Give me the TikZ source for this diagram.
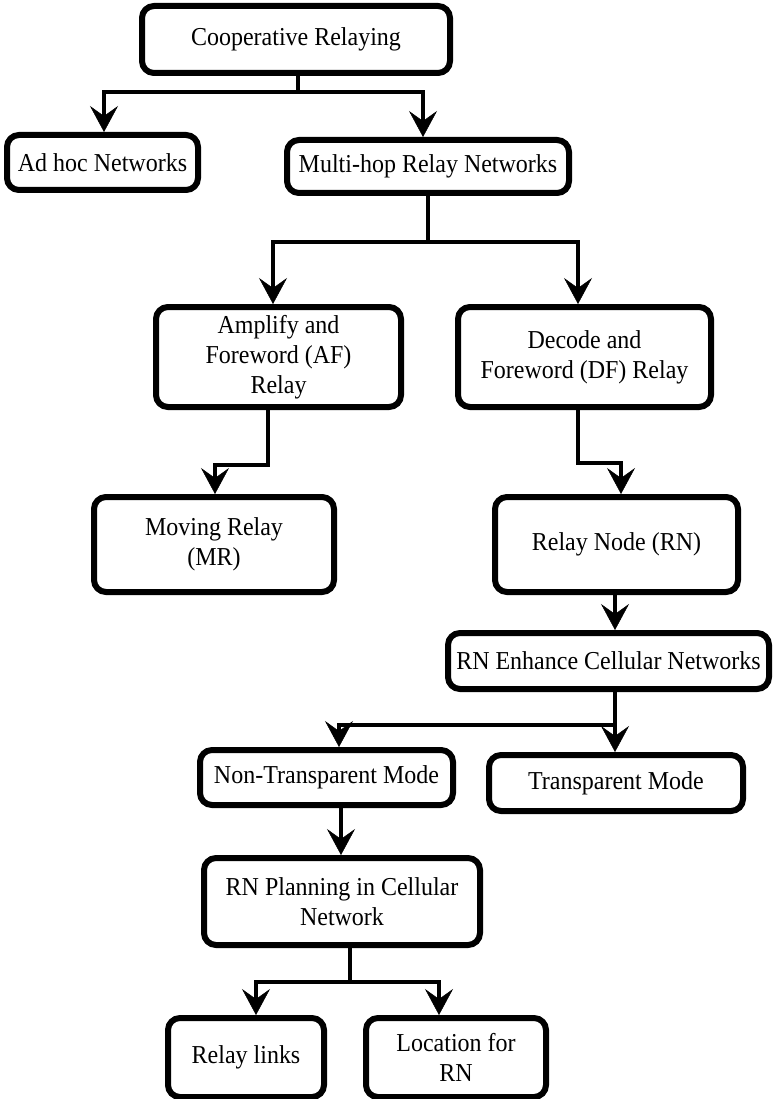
\documentclass[tikz,border=0pt]{standalone}
\usepackage{fontspec}
\setmainfont{Liberation Serif}[FakeStretch=0.93]
\usetikzlibrary{arrows.meta}
\begin{document}
\begin{tikzpicture}[x=1pt,y=-1pt,
  box/.style={draw=black, line width=6pt, rounded corners=12pt, inner sep=0pt,
    align=center, font=\fontsize{25.8}{30}\selectfont},
  conn/.style={draw=black, line width=4pt,
    -{Stealth[length=26pt,width=28pt,inset=10pt,line width=0.5pt]}}]
\useasboundingbox (0,0) rectangle (774,1099);

% boxes
\node[box, minimum width=308pt, minimum height=67pt] (coop) at (296,39.5) {Cooperative Relaying};
\node[box, minimum width=191pt, minimum height=55pt] (adhoc) at (102.5,162.5) {Ad hoc Networks};
\node[box, minimum width=282pt, minimum height=53pt] (multi) at (428,166.5) {Multi-hop Relay Networks};
\node[box, minimum width=245pt, minimum height=100pt] (af) at (278.5,357) {Amplify and\\Foreword (AF)\\Relay};
\node[box, minimum width=253pt, minimum height=100pt] (df) at (584.5,357) {Decode and\\Foreword (DF) Relay};
\node[box, minimum width=240pt, minimum height=95pt] (mr) at (214,544.5) {Moving Relay\\(MR)};
\node[box, minimum width=243pt, minimum height=95pt] (rn) at (616.5,544.5) {Relay Node (RN)};
\node[box, minimum width=321pt, minimum height=56pt] (enh) at (608.5,661) {RN Enhance Cellular Networks};
\node[box, minimum width=253pt, minimum height=55pt] (nt) at (326.5,777.5) {Non-Transparent Mode};
\node[box, minimum width=254pt, minimum height=56pt] (tm) at (616,783) {Transparent Mode};
\node[box, minimum width=276pt, minimum height=87pt] (plan) at (342,901.5) {RN Planning in Cellular\\Network};
\node[box, minimum width=156pt, minimum height=79pt] (links) at (246,1057.5) {Relay links};
\node[box, minimum width=180pt, minimum height=79pt] (loc) at (456,1057.5) {Location for\\RN};

% junction points of the branching connectors
\coordinate (j1) at (298,92);
\coordinate (j2) at (428,242);
\coordinate (j3) at (615,725);
\coordinate (j4) at (350,982);

% connectors
\draw[conn] (coop.south -| j1) -- (j1) -| (adhoc.north -| 104,0);
\draw[conn] (j1) -| (multi.north -| 423,0);

\draw[conn] (multi.south -| j2) -- (j2) -| (af.north -| 273,0);
\draw[conn] (j2) -| (df.north -| 578,0);

\draw[conn] (af.south -| 268,0) |- (215,465) -- (mr.north -| 215,0);
\draw[conn] (df.south -| 578,0) |- (621,463) -- (rn.north -| 621,0);

\draw[conn] (rn.south -| 615,0) -- (enh.north -| 615,0);

\draw[conn] (enh.south -| j3) -- (tm.north -| j3);
\draw[conn] (j3) -| (nt.north -| 339,0);

\draw[conn] (nt.south -| 341,0) -- (plan.north -| 341,0);

\draw[conn] (plan.south -| j4) -- (j4) -| (links.north -| 256,0);
\draw[conn] (j4) -| (loc.north -| 439,0);
\end{tikzpicture}
\end{document}
